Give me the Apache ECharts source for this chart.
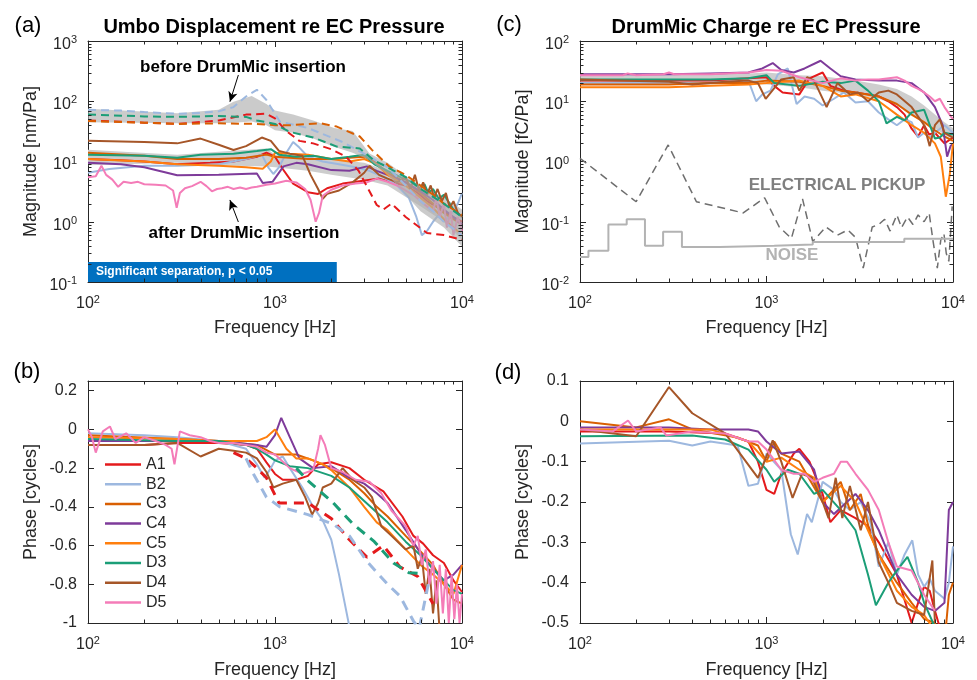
<!DOCTYPE html>
<html>
<head>
<meta charset="utf-8">
<script src="https://cdn.jsdelivr.net/npm/echarts@6/dist/echarts.min.js"></script>
<style>html,body{margin:0;padding:0;background:#fff}#main{width:977px;height:680px}</style>
</head>
<body>
<div id="main"></div>
<script>
// ---------- data (frequency in Hz) ----------
const names = ['A1', 'B2', 'C3', 'C4', 'C5', 'D3', 'D4', 'D5'];
const colors = ['#e41a1c', '#9db8df', '#d95f02', '#7e3b9a', '#ff7f0e', '#1b9e77', '#a65628', '#f47cb8'];

// (a) umbo displacement after DrumMic insertion [nm/Pa]
const umboA1 = [[100,11],[150,10.5],[200,10],[300,9],[450,9.5],[600,10],[800,12],[900,14],[1000,12],[1100,7.5],[1250,4.3],[1500,3.1],[1700,2.9],[1900,3.6],[2300,4.3],[2700,4.6],[3100,4.9],[3600,5.2],[4200,4.5],[5000,4],[5800,3],[6500,2.2],[7500,1.7],[8500,1.3],[10000,1]];
const umboB2 = [[100,6.5],[130,7.5],[200,8.5],[300,8.5],[500,9],[700,11],[850,13],[920,8],[980,6.2],[1050,8],[1150,14],[1250,21],[1350,17],[1500,12],[1800,10],[2200,9],[2700,8],[3200,7],[3800,5.5],[4500,4],[5200,2.5],[5700,1.2],[6100,0.6],[6500,0.7],[7000,1],[7500,1.3],[8000,1],[8500,1.2],[9000,1.5],[9500,2],[10000,3]];
const umboC3 = [[100,14],[200,12.5],[300,11],[500,11],[700,11.5],[900,13],[1000,12],[1200,11.5],[1500,11],[2000,11],[2500,11.5],[3000,12],[3400,10],[4000,6.5],[5000,4.5],[6000,3],[7000,2],[8000,1.4],[9000,1.1],[10000,0.9]];
const umboC4 = [[100,9.5],[150,9],[200,8],[300,5.9],[500,6],[800,6.3],[860,4.4],[970,4.6],[1110,8.3],[1300,9.5],[1500,9],[2000,7.2],[2500,7],[3100,8.3],[3500,7],[4000,6],[5000,4.5],[6000,3.2],[7000,2.3],[8000,1.6],[9000,1.2],[10000,0.9]];
const umboC5 = [[100,11],[200,10],[300,9],[500,8.5],[700,8],[860,7.6],[950,10],[1000,14],[1200,13.5],[1500,13],[2000,11],[2500,10],[3000,11],[3500,9],[4000,6],[5000,4],[6000,2.5],[7000,1.7],[8000,1.1],[9000,0.8],[10000,0.6]];
const umboD3 = [[100,13],[200,12.5],[300,11.5],[400,13],[600,13.5],[800,15],[950,16],[1050,13],[1300,12],[1600,12.5],[2000,11],[2500,12],[3000,13],[3400,9],[4000,7],[5000,5],[5500,4.5],[6000,3.5],[6300,4.2],[6600,3],[7000,3.5],[7500,2.4],[8000,2.8],[9000,1.6],[10000,1.2]];
const umboD4 = [[100,22],[200,21],[300,20],[400,24],[500,19],[600,15.5],[700,18],[850,25],[950,22],[1050,15],[1200,13.5],[1400,12.5],[1550,6],[1700,3.5],[1800,2.4],[1900,2.9],[2200,3.3],[2600,4.5],[3000,6.5],[3200,8.5],[3600,6],[4000,5.2],[4500,4.5],[5000,5.5],[5300,3.5],[5600,6],[5900,3.2],[6200,4.5],[6500,2.8],[6800,4],[7100,2.5],[7400,3.5],[7800,2.2],[8200,3],[8600,1.7],[9000,2.2],[9500,1.4],[10000,1.2]];
const umboD5 = [[100,5.5],[110,5.7],[118,8.5],[125,6],[135,5],[145,3.8],[155,4.6],[170,4.4],[185,4.6],[200,4.2],[230,4.1],[260,4],[285,3.3],[298,1.7],[310,3],[330,3.6],[360,3.9],[400,4.6],[430,3.9],[460,3.2],[490,3.5],[520,3.6],[560,3.8],[600,3.5],[650,3.7],[700,3.5],[750,3.7],[800,3.8],[900,4.1],[1000,4.3],[1150,4.8],[1300,4.5],[1450,3.5],[1550,2.3],[1650,1.0],[1720,1.4],[1800,2.7],[2000,3.4],[2300,4],[2700,4.3],[3100,4.5],[3500,5.2],[4000,4.6],[4500,4],[5000,3.3],[5500,2.8],[6000,2.2],[6500,1.8],[7000,1.5],[7300,2.5],[7600,1.2],[8000,2],[8300,0.8],[8700,1.5],[9000,0.6],[9500,1.2],[10000,0.7]];

// (a) before insertion (dashed)
const umboBeforeA1 = [[100,48],[200,44],[300,42],[500,48],[700,60],[900,62],[1000,52],[1150,32],[1350,22],[1600,20],[2000,16],[2400,12],[2800,7],[3200,3.2],[3500,1.9],[3800,1.6],[4200,2],[5000,1.2],[6500,0.65],[8000,0.6],[10000,0.5]];
const umboBeforeB2 = [[100,72],[150,70],[200,66],[300,62],[400,64],[500,68],[600,80],[700,120],[800,155],[900,105],[1060,46],[1500,36],[2300,21],[3200,12],[4000,8],[5000,4],[6000,2.2],[7000,1.5],[8000,1],[10000,0.6]];
const umboBeforeC3 = [[100,47],[200,44],[300,42],[500,43],[800,42],[1000,40],[1200,40],[1750,43],[2140,38],[2840,26],[3300,15.6],[4100,8.2],[5000,6],[6000,4],[7000,2.8],[8000,2],[10000,1.3]];
const umboBeforeD3 = [[100,60],[200,56],[300,55],[500,57],[700,55],[800,48],[900,45],[1000,42],[1200,31],[1600,25],[2140,17.7],[2840,16.5],[3360,10.6],[4000,8],[5000,5.5],[6000,3.5],[8000,2],[10000,1.2]];

// (a) grey ranges: [freq, low, high]
const umboBandBefore = [[100,45,75],[300,43,63],[500,43,72],[600,44,98],[750,46,122],[900,40,90],[1000,33,70],[1250,30,60],[1600,24,48],[2070,17.6,36],[2600,14,32],[3200,10.6,13.6],[4000,6,9.5],[6000,1.5,3.8],[8000,0.8,2],[10000,0.39,1.2]];
const umboBandAfter = [[100,8.7,15.6],[300,9.5,13],[500,8.7,14.5],[900,8.3,16.5],[1000,8,13],[1500,7,12],[2000,6,11],[3000,5,9.5],[4000,4,7],[6000,1.8,4],[8000,1,2.5],[10000,0.5,1.6]];
const sigBand = [100, 2140];

// (b) umbo phase [cycles]
const umboPhA1 = [[100,-0.08],[200,-0.08],[300,-0.07],[500,-0.07],[700,-0.08],[800,-0.1],[900,-0.17],[1000,-0.23],[1100,-0.26],[1300,-0.26],[1500,-0.24],[1700,-0.18],[2000,-0.17],[2500,-0.2],[3000,-0.26],[3800,-0.32],[4800,-0.45],[5500,-0.55],[6200,-0.59],[7000,-0.65],[8000,-0.69],[9000,-0.78],[10000,-0.84]];
const umboPhB2 = [[100,-0.02],[200,-0.03],[300,-0.04],[500,-0.06],[700,-0.1],[800,-0.18],[880,-0.25],[950,-0.2],[1000,-0.16],[1100,-0.14],[1200,-0.2],[1400,-0.3],[1600,-0.4],[1800,-0.47],[2000,-0.57],[2200,-0.75],[2500,-1.02]];
const umboPhC3 = [[100,-0.03],[300,-0.05],[500,-0.06],[800,-0.08],[1000,-0.13],[1300,-0.13],[1600,-0.16],[2000,-0.2],[2500,-0.26],[3000,-0.33],[3500,-0.4],[4000,-0.45],[5000,-0.55],[6000,-0.63],[7000,-0.7],[8000,-0.8],[9000,-0.88],[10000,-0.9]];
const umboPhC4 = [[100,-0.06],[300,-0.06],[500,-0.06],[800,-0.08],[900,-0.09],[1000,-0.03],[1080,0.06],[1200,-0.04],[1350,-0.15],[1600,-0.2],[2000,-0.19],[2500,-0.25],[3000,-0.28],[3500,-0.33],[4000,-0.38],[5000,-0.52],[6000,-0.64],[7000,-0.72],[8000,-0.78],[9000,-0.75],[10000,-0.7]];
const umboPhC5 = [[100,-0.04],[300,-0.05],[500,-0.06],[800,-0.06],[900,-0.04],[1000,0.0],[1150,-0.1],[1300,-0.15],[1500,-0.15],[1800,-0.18],[2000,-0.21],[2500,-0.3],[3000,-0.4],[3500,-0.48],[4000,-0.52],[5000,-0.62],[6000,-0.7],[7000,-0.75],[8000,-0.8],[9000,-0.85],[10000,-0.7]];
const umboPhD3 = [[100,-0.05],[300,-0.06],[500,-0.06],[700,-0.08],[800,-0.1],[900,-0.13],[1000,-0.16],[1200,-0.19],[1500,-0.2],[2000,-0.24],[2500,-0.3],[3000,-0.37],[4000,-0.48],[5000,-0.58],[6000,-0.65],[7000,-0.72],[8000,-0.78],[9000,-0.83],[10000,-0.85]];
const umboPhD4 = [[100,-0.08],[200,-0.08],[300,-0.07],[400,-0.14],[500,-0.1],[600,-0.11],[700,-0.12],[800,-0.15],[900,-0.22],[980,-0.3],[1100,-0.28],[1300,-0.26],[1450,-0.35],[1580,-0.44],[1700,-0.38],[1800,-0.3],[2000,-0.28],[2300,-0.2],[2600,-0.26],[3000,-0.3],[3300,-0.35],[3700,-0.5],[4200,-0.55],[5000,-0.62],[5500,-0.6],[5800,-0.72],[6100,-0.66],[6400,-0.85],[6700,-0.72],[7000,-0.95],[7300,-0.78],[7600,-1.05]];
const umboPhD5 = [[100,0],[105,-0.04],[110,-0.12],[120,-0.01],[131,0.015],[140,-0.05],[160,-0.02],[180,-0.07],[200,-0.04],[230,-0.06],[260,-0.08],[280,-0.1],[290,-0.18],[310,-0.01],[350,-0.03],[400,-0.04],[450,-0.06],[500,-0.07],[600,-0.07],[700,-0.08],[800,-0.09],[900,-0.12],[1000,-0.13],[1200,-0.2],[1400,-0.23],[1600,-0.21],[1700,-0.1],[1750,-0.03],[1850,-0.08],[2000,-0.2],[2300,-0.22],[2700,-0.26],[3200,-0.27],[3700,-0.33],[4200,-0.42],[5000,-0.5],[5500,-0.6],[5800,-0.55],[6100,-0.7],[6400,-0.62],[6700,-0.8],[7000,-0.68],[7300,-0.9],[7600,-0.7],[7900,-0.95],[8200,-0.72],[8500,-1.0],[8800,-0.75],[9100,-0.98],[9400,-0.8],[9700,-1.0],[10000,-0.85]];
const umboPhBeforeA1 = [[600,-0.12],[700,-0.15],[800,-0.2],[900,-0.25],[1050,-0.38],[1500,-0.38],[2000,-0.46],[2500,-0.57],[3100,-0.66],[3800,-0.6],[4650,-0.71],[5800,-0.76],[7000,-0.9]];
const umboPhBeforeB2 = [[700,-0.15],[767,-0.23],[900,-0.35],[1060,-0.4],[1500,-0.44],[2050,-0.49],[2500,-0.55],[3090,-0.68],[4000,-0.8],[4650,-0.86],[5500,-0.99],[5900,-1.03],[6600,-0.8]];
const umboPhBeforeD3 = [[1300,-0.2],[1480,-0.26],[2050,-0.38],[2620,-0.49],[3400,-0.58],[4300,-0.69],[5200,-0.74],[6100,-0.745]];

// (c) DrumMic charge [fC/Pa]
const chargeA1 = [[100,22],[300,22],[500,22],[800,24],[1000,25],[1100,18],[1220,14],[1500,13],[1700,24],[2000,30],[2200,18],[2600,15],[3000,14],[3500,13],[4000,12],[4500,10],[5000,8],[5500,6],[6000,3.5],[6500,2.6],[7000,4],[7450,2.8],[8000,3],[9000,2],[10000,2.5]];
const chargeB2 = [[100,20],[300,20],[500,20],[800,22],[880,10],[950,13],[1050,15],[1150,28],[1300,35],[1450,9],[1600,12],[1800,11],[2000,8.5],[2300,11],[2600,14],[3000,9.5],[3500,10],[4000,6.5],[4500,5],[5000,4],[5500,5],[6000,4.5],[6500,2.5],[7000,3],[7500,2.5],[8000,3],[9000,4],[10000,3]];
const chargeC3 = [[100,19],[300,19],[500,20],[800,20],[1000,22],[1500,21],[2000,18],[2500,15],[3000,14],[4000,12],[5000,9],[6000,6],[7000,4.5],[8000,3.3],[9000,2.6],[10000,2.2]];
const chargeC4 = [[100,28],[300,28],[500,29],[800,30],[950,35],[1080,43],[1200,33],[1400,30],[1600,35],[1950,47],[2200,35],[2500,26],[3000,23],[4000,22],[5000,22],[6000,20],[7000,14],[8000,8],[8800,4],[9300,1.2],[9700,1.8],[10000,2]];
const chargeC5 = [[100,17],[300,17],[500,18],[800,19],[1000,20],[1500,22],[2000,18],[2500,12],[3000,13],[4000,10],[5000,6],[6000,4],[7000,3],[8000,2],[8600,1.2],[9150,0.26],[9600,0.6],[10000,2]];
const chargeD3 = [[100,23],[300,23],[500,23],[800,24],[1000,27],[1100,20],[1500,18],[2000,21],[2500,20],[3000,22],[3500,15],[4000,10],[4400,4.3],[5000,5.5],[5500,4.8],[6000,6.5],[7000,7.2],[8000,2.4],[8500,2.5],[9000,3],[10000,2.8]];
const chargeD4 = [[100,23],[300,21],[400,19],[600,21],[800,22],[900,20],[990,11],[1200,23],[1400,25],[1500,15],[1650,25],[1800,22],[2100,8],[2400,20],[2800,13],[3100,14],[3500,10],[4000,14],[4500,15],[5000,13],[6000,8],[7000,4],[7500,1.8],[8000,4],[8500,5],[9000,3],[10000,2.5]];
const chargeD5 = [[100,27],[170,27],[180,29],[200,27],[280,28],[300,30],[320,28],[500,28],[800,30],[1000,33],[1200,32],[1500,25],[2000,20],[2500,24],[3000,22],[3500,23],[4000,23],[5000,25],[5500,22],[6000,18],[6500,16],[7000,14],[7500,12],[8000,10],[8500,11],[9000,8],[10000,5]];
const chargeBand = [[100,19,27],[500,19,28],[800,20,29],[1000,19,30],[1500,17,27],[2000,15,26],[3000,13,22],[4000,11,19],[5000,8.5,16],[6000,6,12],[7000,4.5,8.5],[8000,3.5,6],[9000,2.8,4.5],[10000,2.3,3.6]];
const pickup = [[100,1.13],[200,0.215],[297,1.88],[421,0.215],[750,0.14],[977,0.25],[1170,0.082],[1360,0.053],[1560,0.24],[1770,0.047],[2080,0.082],[2400,0.06],[2730,0.073],[3000,0.055],[3300,0.017],[3690,0.082],[4000,0.09],[4300,0.11],[4600,0.07],[5000,0.13],[5300,0.08],[5700,0.12],[6100,0.09],[6500,0.13],[7000,0.1],[7450,0.14],[7800,0.05],[8240,0.017],[8600,0.05],[8940,0.064],[9200,0.03],[9500,0.022],[9900,0.18]];
const noise = [[100,0.026],[111,0.033],[142,0.09],[178,0.11],[223,0.04],[279,0.068],[352,0.038],[560,0.04],[1100,0.042],[1770,0.046],[2840,0.046],[5480,0.052],[10000,0.052]];

// (d) DrumMic phase [cycles]
const chargePhA1 = [[100,-0.025],[300,-0.025],[600,-0.03],[800,-0.05],[900,-0.1],[1000,-0.17],[1100,-0.18],[1200,-0.13],[1400,-0.08],[1500,-0.068],[1700,-0.1],[2000,-0.18],[2200,-0.25],[2500,-0.22],[3000,-0.24],[3500,-0.26],[4000,-0.3],[5000,-0.38],[6000,-0.5],[6500,-0.45],[7000,-0.41],[7500,-0.42],[8000,-0.47],[9000,-0.55]];
const chargePhB2 = [[100,-0.055],[300,-0.048],[400,-0.06],[500,-0.05],[700,-0.06],[800,-0.16],[900,-0.155],[1000,-0.08],[1200,-0.12],[1350,-0.28],[1470,-0.33],[1650,-0.23],[1750,-0.25],[2000,-0.15],[2300,-0.17],[2500,-0.2],[2800,-0.22],[3200,-0.2],[3600,-0.25],[4000,-0.36],[4500,-0.3],[5000,-0.38],[5500,-0.33],[6050,-0.295],[6500,-0.38],[7000,-0.41],[7500,-0.39],[8000,-0.42],[9000,-0.44],[9500,-0.4],[10000,-0.31]];
const chargePhC3 = [[100,0.0],[200,-0.015],[300,0.005],[400,-0.02],[700,-0.04],[900,-0.06],[1000,-0.1],[1100,-0.05],[1200,-0.08],[1500,-0.1],[2000,-0.2],[2500,-0.15],[2800,-0.22],[3200,-0.18],[3600,-0.28],[4000,-0.33],[5000,-0.4],[6000,-0.45],[7000,-0.49],[8000,-0.5],[9000,-0.55],[9500,-0.43],[10000,-0.4]];
const chargePhC4 = [[100,-0.015],[300,-0.015],[500,-0.02],[800,-0.02],[900,-0.025],[1000,-0.05],[1200,-0.08],[1500,-0.075],[1800,-0.12],[2000,-0.2],[2300,-0.23],[2700,-0.2],[3000,-0.18],[3500,-0.22],[4000,-0.27],[5000,-0.38],[6000,-0.43],[7000,-0.46],[8000,-0.47],[9000,-0.45],[9500,-0.22],[10000,-0.2]];
const chargePhC5 = [[100,-0.02],[300,-0.02],[500,-0.02],[800,-0.05],[1000,-0.1],[1200,-0.09],[1500,-0.12],[1800,-0.14],[2000,-0.2],[2500,-0.16],[3000,-0.2],[3500,-0.27],[4000,-0.33],[5000,-0.42],[6000,-0.46],[7000,-0.48],[8000,-0.52]];
const chargePhD3 = [[100,-0.037],[400,-0.035],[600,-0.045],[800,-0.07],[1000,-0.12],[1100,-0.15],[1300,-0.12],[1500,-0.13],[1800,-0.18],[2000,-0.17],[2500,-0.22],[3000,-0.27],[3500,-0.38],[3860,-0.456],[4500,-0.4],[5000,-0.37],[5700,-0.336],[6500,-0.4],[7000,-0.45],[8000,-0.51]];
const chargePhD4 = [[100,-0.02],[200,-0.037],[300,0.085],[400,0.02],[600,-0.03],[900,-0.14],[1080,-0.047],[1200,-0.1],[1380,-0.19],[1550,-0.13],[1750,-0.14],[2000,-0.2],[2150,-0.24],[2350,-0.14],[2550,-0.24],[2800,-0.16],[3200,-0.27],[3500,-0.2],[4000,-0.35],[4500,-0.4],[5000,-0.45],[6000,-0.47],[7000,-0.48],[7750,-0.345],[8000,-0.5]];
const chargePhD5 = [[100,-0.02],[150,-0.025],[181,0.002],[200,-0.025],[270,-0.015],[290,-0.035],[400,-0.025],[600,-0.03],[800,-0.05],[900,-0.05],[1000,-0.07],[1200,-0.12],[1400,-0.13],[1600,-0.13],[1800,-0.15],[2000,-0.14],[2300,-0.13],[2500,-0.1],[2700,-0.1],[3000,-0.13],[3500,-0.17],[4000,-0.22],[4500,-0.3],[5000,-0.36],[6000,-0.37],[7000,-0.43],[8000,-0.47]];

const minorX = [200,300,400,500,600,700,800,900,2000,3000,4000,5000,6000,7000,8000,9000];

// ---------- helpers ----------
const FONT = '"Liberation Sans", Arial, Helvetica, sans-serif';
const INK = '#262626';
const grids = [
  {left: 88, top: 41, width: 374, height: 241},
  {left: 88, top: 381, width: 374, height: 242},
  {left: 580, top: 41, width: 373, height: 241},
  {left: 580, top: 381, width: 373, height: 242}
];

function logLabel(v) {
  return '{b|10}{s|' + Math.round(Math.log10(v)) + '}';
}
const supRich = {
  b: {fontSize: 16, lineHeight: 20, color: INK, fontFamily: FONT},
  s: {fontSize: 11, lineHeight: 11, verticalAlign: 'top', color: INK, fontFamily: FONT}
};

function xAxisFor(gi, top) {
  return {
    type: 'log', logBase: 10, min: 100, max: 10000, gridIndex: gi,
    position: top ? 'top' : 'bottom',
    name: top ? '' : 'Frequency [Hz]', nameLocation: 'middle', nameGap: gi % 2 ? 38 : 37,
    nameTextStyle: {fontSize: 18, color: INK, fontFamily: FONT},
    axisLine: {show: true, onZero: false, lineStyle: {color: INK, width: 1}},
    axisTick: {show: true, inside: true, length: 6, lineStyle: {color: INK}},
    axisLabel: {show: !top, formatter: logLabel, rich: supRich, margin: 12},
    splitLine: {show: false}
  };
}
function yAxisFor(gi, right, spec) {
  const ax = Object.assign({
    gridIndex: gi, position: right ? 'right' : 'left',
    name: right ? '' : spec.name, nameLocation: 'middle', nameGap: 48,
    nameTextStyle: {fontSize: 18, color: INK, fontFamily: FONT},
    axisLine: {show: true, onZero: false, lineStyle: {color: INK, width: 1}},
    axisTick: {show: true, inside: true, length: 6, lineStyle: {color: INK}},
    splitLine: {show: false}
  }, spec.scale);
  ax.axisLabel = Object.assign({show: !right, margin: 11, color: INK, fontSize: 16, fontFamily: FONT}, spec.label);
  return ax;
}
const ySpecs = [
  {name: 'Magnitude [nm/Pa]', scale: {type: 'log', logBase: 10, min: 0.1, max: 1000}, label: {formatter: logLabel, rich: supRich, padding: [7, 0, 0, 0]}},
  {name: 'Phase [cycles]', scale: {type: 'value', min: -1, max: 0.25, interval: 0.2}, label: {showMaxLabel: false}},
  {name: 'Magnitude [fC/Pa]', scale: {type: 'log', logBase: 10, min: 0.01, max: 100}, label: {formatter: logLabel, rich: supRich, padding: [7, 0, 0, 0]}},
  {name: 'Phase [cycles]', scale: {type: 'value', min: -0.5, max: 0.1, interval: 0.1}, label: {}}
];

function line(gi, name, color, data, width, dash, z) {
  return {
    type: 'line', name: name, xAxisIndex: gi, yAxisIndex: gi, data: data,
    symbol: 'none', showSymbol: false, silent: true, z: z || 2,
    lineStyle: {color: color, width: width, type: dash || 'solid'},
    itemStyle: {color: color}, emphasis: {disabled: true}
  };
}
function band(gi, rows, fill, z) {
  return {
    type: 'custom', name: 'range', xAxisIndex: gi, yAxisIndex: gi, silent: true, z: z,
    data: rows,
    renderItem: function (params, api) {
      if (params.dataIndex !== 0) return null;
      const upper = rows.map(r => api.coord([r[0], r[2]]));
      const lower = rows.map(r => api.coord([r[0], r[1]])).reverse();
      return {type: 'polygon', shape: {points: upper.concat(lower)}, style: {fill: fill}};
    }
  };
}
// small inward ticks between decades (MATLAB style minor ticks)
function minorTicks(gi, logY, yRef) {
  return {
    type: 'custom', name: 'ticks', xAxisIndex: gi, yAxisIndex: gi, silent: true, z: 20,
    data: [[100, yRef]],
    renderItem: function (params, api) {
      const cs = params.coordSys;
      const kids = [];
      const seg = (x1, y1, x2, y2) => kids.push({type: 'line', shape: {x1, y1, x2, y2}, style: {stroke: INK, lineWidth: 1}});
      minorX.forEach(f => {
        const x = Math.round(api.coord([f, yRef])[0]) + 0.5;
        seg(x, cs.y + cs.height, x, cs.y + cs.height - 3.5);
        seg(x, cs.y, x, cs.y + 3.5);
      });
      if (logY) {
        for (let d = logY[0]; d < logY[1]; d++) {
          for (let k = 2; k <= 9; k++) {
            const y = Math.round(api.coord([100, k * Math.pow(10, d)])[1]) + 0.5;
            seg(cs.x, y, cs.x + 3.5, y);
            seg(cs.x + cs.width, y, cs.x + cs.width - 3.5, y);
          }
        }
      }
      return {type: 'group', children: kids};
    }
  };
}

// ---------- series ----------
const series = [];
const umbo = [umboA1, umboB2, umboC3, umboC4, umboC5, umboD3, umboD4, umboD5];
const umboPh = [umboPhA1, umboPhB2, umboPhC3, umboPhC4, umboPhC5, umboPhD3, umboPhD4, umboPhD5];
const charge = [chargeA1, chargeB2, chargeC3, chargeC4, chargeC5, chargeD3, chargeD4, chargeD5];
const chargePh = [chargePhA1, chargePhB2, chargePhC3, chargePhC4, chargePhC5, chargePhD3, chargePhD4, chargePhD5];

// panel a
names.forEach((n, i) => series.push(line(0, n, colors[i], umbo[i], 2, 'solid', 3)));
series.push(band(0, umboBandAfter, '#cdcdcd', 1));
series.push(band(0, umboBandBefore, 'rgba(175,175,175,0.65)', 4));
series.push(line(0, 'A1 before', colors[0], umboBeforeA1, 2, [8, 5], 5));
series.push(line(0, 'B2 before', colors[1], umboBeforeB2, 2, [8, 5], 5));
series.push(line(0, 'C3 before', colors[2], umboBeforeC3, 2, [8, 5], 5));
series.push(line(0, 'D3 before', colors[5], umboBeforeD3, 2, [8, 5], 5));
series.push({
  type: 'line', name: 'notes', xAxisIndex: 0, yAxisIndex: 0, data: [[100, 0.1]], symbol: 'none',
  lineStyle: {opacity: 0}, silent: true, z: 6,
  markArea: {
    silent: true,
    itemStyle: {color: '#0070c0'},
    label: {show: true, position: 'insideLeft', distance: 8, color: '#fff', fontSize: 12, fontWeight: 'bold', fontFamily: FONT},
    data: [[{name: 'Significant separation, p < 0.05', coord: [sigBand[0], 0.1]}, {coord: [sigBand[1], 0.215]}]]
  },
  markLine: {
    silent: true, symbol: ['none', 'arrow'], symbolSize: [7, 10],
    lineStyle: {color: '#000', width: 1, type: 'solid'}, label: {show: false},
    data: [
      [{coord: [637, 273]}, {coord: [574, 98]}],
      [{coord: [637, 0.99]}, {coord: [574, 2.3]}]
    ]
  }
});

// panel b
names.forEach((n, i) => series.push(line(1, n, colors[i], umboPh[i], 2, 'solid', 3)));
series.push(line(1, 'A1 before', colors[0], umboPhBeforeA1, 3, [10, 7], 4));
series.push(line(1, 'B2 before', colors[1], umboPhBeforeB2, 3, [10, 7], 4));
series.push(line(1, 'D3 before', colors[5], umboPhBeforeD3, 3, [10, 7], 4));

// panel c
series.push(band(2, chargeBand, 'rgba(190,190,190,0.75)', 1));
series.push(line(2, 'pickup', '#6e6e6e', pickup, 1.5, [8, 5], 2));
series.push(Object.assign(line(2, 'noise', '#b3b3b3', noise, 2, 'solid', 2), {step: 'end'}));
names.forEach((n, i) => series.push(line(2, n, colors[i], charge[i], 2, 'solid', 3)));

// panel d
names.forEach((n, i) => series.push(line(3, n, colors[i], chargePh[i], 2, 'solid', 3)));

series.push(minorTicks(0, [-1, 3], 1));
series.push(minorTicks(1, null, 0));
series.push(minorTicks(2, [-2, 2], 1));
series.push(minorTicks(3, null, 0));

// ---------- text ----------
function txt(x, y, text, font, fill) {
  return {type: 'text', x: x, y: y, silent: true, z: 50,
    style: {text: text, font: font, fill: fill || '#000', align: 'center', verticalAlign: 'middle'}};
}
const graphic = [
  txt(28, 26, '(a)', '22px ' + FONT, '#000'),
  txt(27, 372, '(b)', '22px ' + FONT, '#000'),
  txt(509, 25, '(c)', '22px ' + FONT, '#000'),
  txt(508, 373, '(d)', '22px ' + FONT, '#000'),
  txt(274, 27, 'Umbo Displacement re EC Pressure', 'bold 20px ' + FONT, '#000'),
  txt(766, 27, 'DrumMic Charge re EC Pressure', 'bold 20px ' + FONT, '#000'),
  txt(243, 67, 'before DrumMic insertion', 'bold 17px ' + FONT, '#000'),
  txt(244, 233, 'after DrumMic insertion', 'bold 17px ' + FONT, '#000'),
  txt(837, 185, 'ELECTRICAL PICKUP', 'bold 17px ' + FONT, '#7f7f7f'),
  txt(792, 255, 'NOISE', 'bold 17px ' + FONT, '#b3b3b3')
];

const chart = echarts.init(document.getElementById('main'), null, {renderer: 'canvas'});
chart.setOption({
  animation: false,
  backgroundColor: '#fff',
  textStyle: {fontFamily: FONT},
  grid: grids,
  xAxis: [0, 1, 2, 3].map(g => xAxisFor(g, false)).concat([0, 1, 2, 3].map(g => xAxisFor(g, true))),
  yAxis: [0, 1, 2, 3].map(g => yAxisFor(g, false, ySpecs[g])).concat([0, 1, 2, 3].map(g => yAxisFor(g, true, ySpecs[g]))),
  legend: {
    orient: 'vertical', left: 100, top: 451, data: names, selectedMode: false,
    icon: 'rect', itemWidth: 36, itemHeight: 2.5, itemGap: 2.7,
    textStyle: {fontSize: 16, lineHeight: 17, color: INK, fontFamily: FONT}
  },
  graphic: graphic,
  series: series
});
</script>
</body>
</html>
